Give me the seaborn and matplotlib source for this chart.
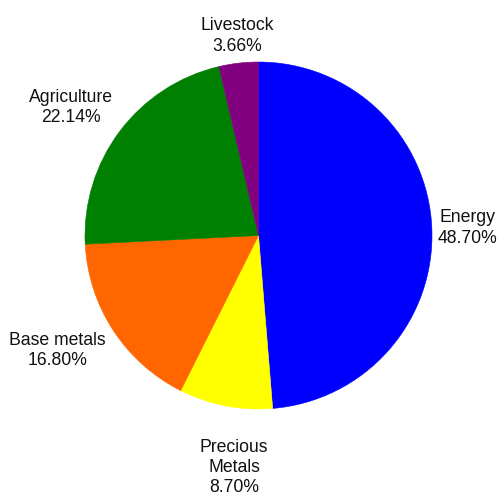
import numpy as np
import matplotlib
matplotlib.use("Agg")
import matplotlib.pyplot as plt
import seaborn as sns

# Commodity index weights by sector
categories = ["Energy", "Precious\nMetals", "Base metals", "Agriculture", "Livestock"]
shares = [48.70, 8.70, 16.80, 22.14, 3.66]
colors = ["#0000FF", "#FFFF00", "#FF6600", "#008000", "#800080"]

sns.set_theme(style="white")
plt.rcParams["font.family"] = ["Liberation Sans", "DejaVu Sans"]

W, H, DPI = 499, 495, 100
fig = plt.figure(figsize=(W / DPI, H / DPI), dpi=DPI)
ax = fig.add_axes([0, 0, 1, 1])

# pie centre and radius in pixels
cx, cy, rad = 258.5, 235.5, 173.5

wedges, _ = ax.pie(
    shares,
    colors=sns.color_palette(colors),
    startangle=90,
    counterclock=False,
    radius=1.0,
    wedgeprops=dict(linewidth=0),
    frame=True,
)
# paint each wedge's outline in its own fill colour to close seams
for w in wedges:
    w.set_edgecolor(w.get_facecolor())
    w.set_linewidth(0.4)

ax.set_aspect("auto")
ax.set_xlim(-cx / rad, (W - cx) / rad)
ax.set_ylim(-(H - cy) / rad, cy / rad)
ax.axis("off")

# small nudges for labels around the lower half of the pie
extra = {"Precious\nMetals": (0.06, -0.14), "Base metals": (0.0, 0.018)}

for w, name, val in zip(wedges, categories, shares):
    ang = np.deg2rad((w.theta1 + w.theta2) / 2)
    c, s = np.cos(ang), np.sin(ang)
    r = 1.05
    x, y = r * c, r * s
    ha = "left" if c > 0.25 else ("right" if c < -0.25 else "center")
    va = "bottom" if s > 0.25 else ("top" if s < -0.25 else "center")
    dx, dy = extra.get(name, (0, 0))
    if name == "Energy":
        x = 1.035
    ax.text(x + dx, y + dy, f"{name}\n{val:.2f}%", ha=ha, va=va,
            multialignment="center", fontsize=12.7, color="#111111",
            linespacing=1.25)

fig.savefig("out.png", dpi=DPI)
